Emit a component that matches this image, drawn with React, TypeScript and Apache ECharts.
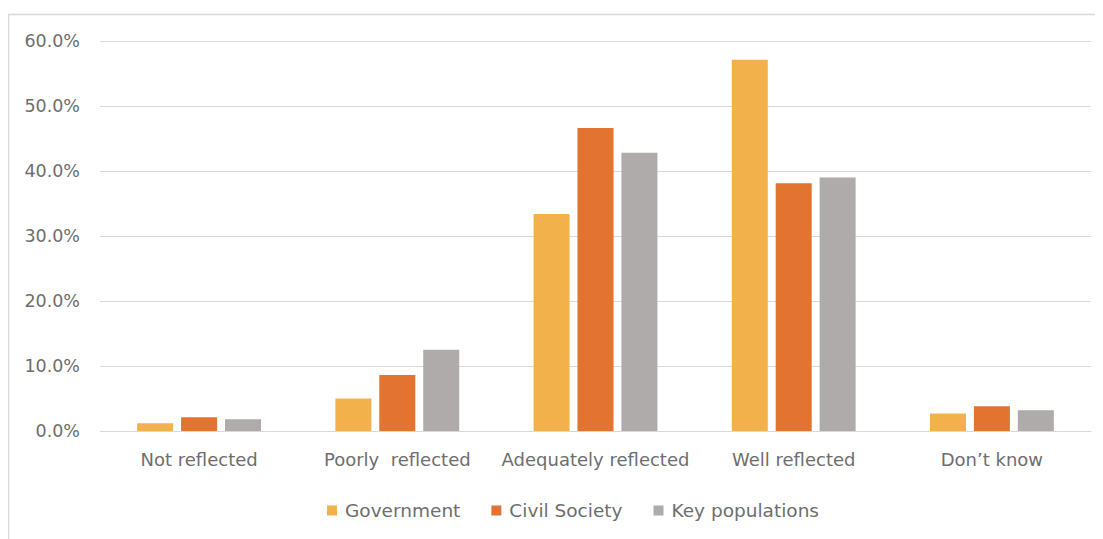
import React, { useEffect, useRef } from "react";
import * as echarts from "echarts";

const categories = ["Not reflected", "Poorly  reflected", "Adequately reflected", "Well reflected", "Don\u2019t know"];
const seriesNames = ["Government", "Civil Society", "Key populations"];
const government = [1.2, 5.0, 33.4, 57.1, 2.7];
const civilSociety = [2.1, 8.6, 46.6, 38.1, 3.8];
const keyPopulations = [1.8, 12.5, 42.8, 39.0, 3.2];
const colors = ["#F2B14B", "#E27331", "#AFABAB"];

export default function App() {
  const ref = useRef<HTMLDivElement>(null);
  useEffect(() => {
    if (!ref.current) return;
    const chart = echarts.init(ref.current, undefined, { renderer: "svg" });
    const font = "'DejaVu Sans', 'Open Sans', sans-serif";
    const data = [government, civilSociety, keyPopulations];
    chart.setOption({
      animation: false,
      color: colors,
      textStyle: { fontFamily: font },
      grid: { left: 92, right: 12, top: 33, bottom: 108 },
      legend: {
        bottom: 14,
        left: 314,
        itemWidth: 10,
        itemHeight: 10,
        itemGap: 31,
        icon: "rect",
        textStyle: { color: "#6E6E6E", fontSize: 18.5, fontFamily: font, padding: [0, 0, 0, 3] },
        data: seriesNames,
      },
      xAxis: {
        type: "category",
        data: categories,
        axisLine: { lineStyle: { color: "#D9D9D9", width: 1 } },
        axisTick: { show: false },
        axisLabel: { color: "#6E6E6E", fontSize: 18, margin: 19, interval: 0, fontFamily: font },
      },
      yAxis: {
        type: "value",
        min: 0,
        max: 60,
        interval: 10,
        axisLine: { show: false },
        axisTick: { show: false },
        splitLine: { lineStyle: { color: "#D9D9D9", width: 1 } },
        axisLabel: {
          color: "#6E6E6E",
          fontSize: 17.5,
          margin: 20,
          fontFamily: font,
          formatter: (v: number) => v.toFixed(1) + "%",
        },
      },
      graphic: [
        { type: "line", shape: { x1: 0, y1: 6.5, x2: 1095, y2: 6.5 }, style: { stroke: "#D9D9D9", lineWidth: 1.5 } },
        { type: "line", shape: { x1: 0.5, y1: 6.5, x2: 0.5, y2: 531 }, style: { stroke: "#D9D9D9", lineWidth: 1.5 } },
      ],
      series: seriesNames.map((name, i) => ({
        name,
        type: "bar",
        data: data[i],
        barWidth: 36,
        barGap: "22%",
        itemStyle: { color: colors[i] },
      })),
    });
    return () => chart.dispose();
  }, []);
  return <div ref={ref} style={{ width: 1095, height: 531 }} />;
}
